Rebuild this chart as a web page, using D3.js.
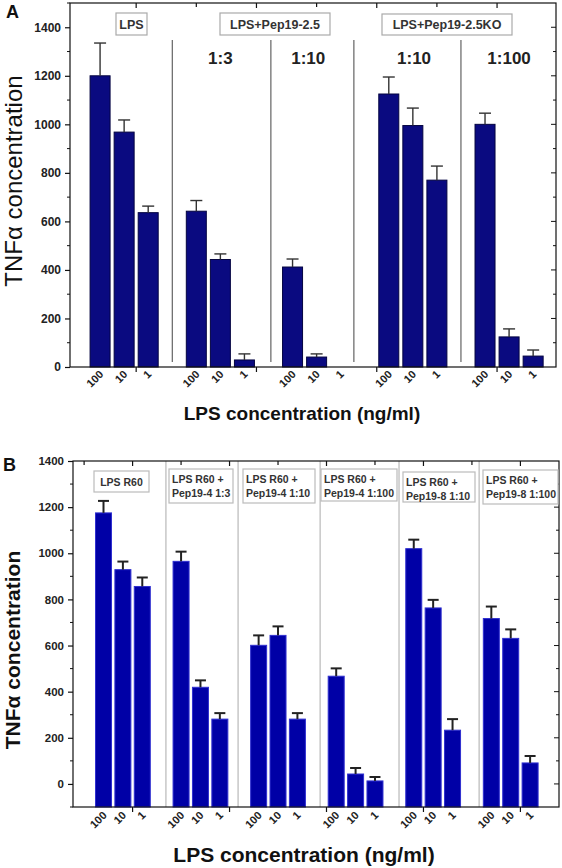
<!DOCTYPE html>
<html>
<head>
<meta charset="utf-8">
<script src="https://cdn.jsdelivr.net/npm/d3@7/dist/d3.min.js"></script>
<style>
  html, body { margin: 0; padding: 0; background: #fff; }
  svg { display: block; }
  text { font-family: "Liberation Sans", Arial, sans-serif; }
</style>
</head>
<body>
<script>
// ---------------- DATA ----------------
const doses = ["100", "10", "1"];

// Panel A
const groupsA = ["LPS", "LPS+Pep19-2.5 1:3", "LPS+Pep19-2.5 1:10", "LPS+Pep19-2.5KO 1:10", "LPS+Pep19-2.5KO 1:100"];
const boxLabelsA = ["LPS", "LPS+Pep19-2.5", "LPS+Pep19-2.5KO"];
const ratioLabelsA = ["", "1:3", "1:10", "1:10", "1:100"];
const meansA = [
  [1200, 968, 636],
  [642, 443, 29],
  [412, 41, 0],
  [1125, 995, 770],
  [1000, 124, 45]
];
const errA = [
  [135, 50, 27],
  [44, 23, 25],
  [33, 13, 0],
  [70, 72, 58],
  [46, 33, 25]
];
const yTicksA = [0, 200, 400, 600, 800, 1000, 1200, 1400];

// Panel B
const groupsB = ["LPS R60", "LPS R60 + Pep19-4 1:3", "LPS R60 + Pep19-4 1:10", "LPS R60 + Pep19-4 1:100", "LPS R60 + Pep19-8 1:10", "LPS R60 + Pep19-8 1:100"];
const boxLabelsB = [
  ["LPS R60"],
  ["LPS R60 +", "Pep19-4 1:3"],
  ["LPS R60 +", "Pep19-4 1:10"],
  ["LPS R60 +", "Pep19-4 1:100"],
  ["LPS R60 +", "Pep19-8 1:10"],
  ["LPS R60 +", "Pep19-8 1:100"]
];
const meansB = [
  [1175, 929, 856],
  [965, 419, 281],
  [601, 644, 281],
  [467, 43, 13],
  [1020, 763, 233],
  [717, 631, 91]
];
const errB = [
  [52, 35, 39],
  [42, 30, 26],
  [43, 39, 26],
  [34, 26, 17],
  [39, 35, 48],
  [52, 39, 30]
];
const yTicksB = [0, 200, 400, 600, 800, 1000, 1200, 1400];

const yTitle = "TNFα concentration";
const xTitle = "LPS concentration (ng/ml)";

// ---------------- DRAW ----------------
const W = 562, H = 868;
const svg = d3.select("body").append("svg").attr("width", W).attr("height", H);
svg.append("rect").attr("width", W).attr("height", H).attr("fill", "#fff");

function flatten(means, errs) {
  const out = [];
  means.forEach((g, gi) => g.forEach((v, i) => out.push({ g: gi, i, slot: gi * 4 + i, v, e: errs[gi][i], dose: doses[i] })));
  return out;
}

function drawPanel(cfg) {
  const g = svg.append("g");
  const x = d3.scaleLinear().domain(cfg.xDomain).range([cfg.left, cfg.right]);
  const y = d3.scaleLinear().domain(cfg.yDomain).range([cfg.bottom, cfg.top]);
  const data = flatten(cfg.means, cfg.errs);

  // separators
  g.selectAll("line.sep").data(cfg.seps).enter().append("line")
    .attr("x1", d => x(d)).attr("x2", d => x(d))
    .attr("y1", cfg.sepTop).attr("y2", cfg.sepBottom)
    .attr("stroke", cfg.sepColor).attr("stroke-width", 1);

  // bars
  const base = cfg.barBase;
  g.selectAll("rect.bar").data(data.filter(d => d.v > 0)).enter().append("rect")
    .attr("x", d => x(d.slot) - cfg.barW / 2)
    .attr("width", cfg.barW)
    .attr("y", d => y(d.v))
    .attr("height", d => y(base) - y(d.v))
    .attr("fill", cfg.barFill).attr("stroke", cfg.barStroke).attr("stroke-width", 1);

  // error bars (upper only)
  const eb = data.filter(d => d.e > 0);
  g.selectAll("line.err").data(eb).enter().append("line")
    .attr("x1", d => x(d.slot)).attr("x2", d => x(d.slot))
    .attr("y1", d => y(d.v)).attr("y2", d => y(d.v + d.e))
    .attr("stroke", cfg.errColor).attr("stroke-width", cfg.errW);
  g.selectAll("line.cap").data(eb).enter().append("line")
    .attr("x1", d => x(d.slot) - cfg.capW).attr("x2", d => x(d.slot) + cfg.capW)
    .attr("y1", d => y(d.v + d.e)).attr("y2", d => y(d.v + d.e))
    .attr("stroke", cfg.errColor).attr("stroke-width", cfg.errW);

  // frame
  g.append("rect").attr("x", cfg.left).attr("y", cfg.top)
    .attr("width", cfg.right - cfg.left).attr("height", cfg.bottom - cfg.top)
    .attr("fill", "none").attr("stroke", "#111").attr("stroke-width", 1.2);

  // left axis
  const yAx = g.append("g").attr("transform", `translate(${cfg.left},0)`)
    .call(d3.axisLeft(y).tickValues(cfg.yTicks).tickSize(5).tickPadding(4).tickFormat(d3.format("d")));
  yAx.select(".domain").remove();
  yAx.selectAll("line").attr("stroke", "#111").attr("stroke-width", 1.2);
  yAx.selectAll("text").attr("font-size", cfg.yTickFont).attr("font-weight", "bold").attr("fill", "#222");

  const minor = d3.range(cfg.yDomain[0], cfg.yDomain[1] + 1, 100).filter(v => v % 200 !== 0);
  g.selectAll("line.ymin").data(minor).enter().append("line")
    .attr("x1", cfg.left - 3).attr("x2", cfg.left)
    .attr("y1", d => y(d)).attr("y2", d => y(d)).attr("stroke", "#111");
  // right axis inward ticks
  const all100 = d3.range(cfg.yDomain[0] + 100, cfg.yDomain[1], 100);
  g.selectAll("line.yr").data(all100).enter().append("line")
    .attr("x1", cfg.right - (d => 4)).attr("x1", d => cfg.right - (d % 200 === 0 ? 5 : 3)).attr("x2", cfg.right)
    .attr("y1", d => y(d)).attr("y2", d => y(d)).attr("stroke", "#111");

  // top ticks inward
  g.selectAll("line.xt").data(cfg.topTicks).enter().append("line")
    .attr("x1", d => x(d)).attr("x2", d => x(d))
    .attr("y1", cfg.top).attr("y2", (d, i) => cfg.top + (cfg.majorX.includes(d) ? 5 : 4))
    .attr("stroke", "#111").attr("stroke-width", 1.2);
  // bottom ticks outward
  g.selectAll("line.xb").data(cfg.majorX).enter().append("line")
    .attr("x1", d => x(d)).attr("x2", d => x(d))
    .attr("y1", cfg.bottom).attr("y2", cfg.bottom + 5)
    .attr("stroke", "#111").attr("stroke-width", 1.2);

  // x tick labels (rotated)
  g.selectAll("text.xl").data(data).enter().append("text")
    .attr("transform", d => `translate(${x(d.slot) + 4},${cfg.bottom + cfg.xlOff}) rotate(-45)`)
    .attr("text-anchor", "end")
    .attr("font-size", cfg.xTickFont).attr("font-weight", "bold").attr("fill", "#222")
    .text(d => d.dose);

  // titles
  g.append("text")
    .attr("transform", `translate(${cfg.yTitleX},${cfg.yTitleY}) rotate(-90)`)
    .attr("text-anchor", "middle")
    .attr("font-size", cfg.yTitleFont).attr("font-weight", cfg.yTitleWeight).attr("fill", "#111")
    .text(yTitle);
  g.append("text").attr("x", cfg.xTitleX).attr("y", cfg.xTitleY)
    .attr("text-anchor", "middle")
    .attr("font-size", cfg.xTitleFont).attr("font-weight", "bold").attr("fill", "#111")
    .text(xTitle);
  g.append("text").attr("x", cfg.panelX).attr("y", cfg.panelY)
    .attr("font-size", 18).attr("font-weight", "bold").attr("fill", "#111")
    .text(cfg.panel);

  return { g, x, y };
}

// ---- Panel A ----
const A = drawPanel({
  panel: "A", panelX: 6, panelY: 18,
  left: 70, right: 556, top: 3, bottom: 367,
  xDomain: [-1.25, 18.95], yDomain: [0, 1500],
  means: meansA, errs: errA, yTicks: yTicksA, barBase: 0,
  barW: 20, barFill: "#0a0a80", barStroke: "#040440",
  errColor: "#333", errW: 1.4, capW: 6,
  seps: [3, 7.1, 10.55, 15], sepTop: 40, sepBottom: 362, sepColor: "#444",
  topTicks: [1.5, 4, 6.5, 9, 11.5, 14, 16.5], majorX: [1.5, 6.5, 11.5, 16.5],
  xlOff: 8, xTickFont: 11, yTickFont: 12,
  yTitleX: 22, yTitleY: 181, yTitleFont: 24, yTitleWeight: "normal",
  xTitleX: 302, xTitleY: 420, xTitleFont: 19
});

// boxes A
const boxesA = [[116, 13, 31, 22], [220, 13, 110, 22], [382, 14, 130, 21]];
boxesA.forEach((b, i) => {
  A.g.append("rect").attr("x", b[0]).attr("y", b[1]).attr("width", b[2]).attr("height", b[3])
    .attr("fill", "#fff").attr("stroke", "#aaa").attr("stroke-width", 1.2);
  A.g.append("text").attr("x", b[0] + b[2] / 2).attr("y", b[1] + b[3] / 2 + 4.5)
    .attr("text-anchor", "middle").attr("font-size", 12.5).attr("font-weight", "bold").attr("fill", "#333")
    .text(boxLabelsA[i]);
});
const ratioSlots = [null, 5, 8.65, 13.05, 17];
ratioLabelsA.forEach((t, i) => {
  if (!t) return;
  A.g.append("text").attr("x", A.x(ratioSlots[i])).attr("y", 64)
    .attr("text-anchor", "middle").attr("font-size", 17).attr("font-weight", "bold").attr("fill", "#222")
    .text(t);
});

// ---- Panel B ----
const B = drawPanel({
  panel: "B", panelX: 3, panelY: 471,
  left: 73, right: 559, top: 461, bottom: 807,
  xDomain: [-1.573, 23.49], yDomain: [-100, 1400],
  means: meansB, errs: errB, yTicks: yTicksB, barBase: -100,
  barW: 16, barFill: "#0000a6", barStroke: "#3030d0",
  errColor: "#222", errW: 2, capW: 5.5,
  seps: [3.22, 6.94, 11.17, 15.24, 19.37], sepTop: 461, sepBottom: 807, sepColor: "#aaa",
  topTicks: [-1, 1.5, 4, 6.5, 9, 11.5, 14, 16.5, 19, 21.5], majorX: [1.5, 6.5, 11.5, 16.5, 21.5],
  xlOff: 9, xTickFont: 11, yTickFont: 11.5,
  yTitleX: 20, yTitleY: 650, yTitleFont: 21, yTitleWeight: "bold",
  xTitleX: 304, xTitleY: 862, xTitleFont: 21
});

const boxesB = [[94, 471, 55, 21], [169, 469, 64, 34], [243, 469, 72, 34], [321, 469, 76, 32], [403, 472, 72, 30], [483, 470, 75, 34]];
boxesB.forEach((b, i) => {
  B.g.append("rect").attr("x", b[0]).attr("y", b[1]).attr("width", b[2]).attr("height", b[3])
    .attr("fill", "#fff").attr("stroke", "#bbb").attr("stroke-width", 1.2);
  const lines = boxLabelsB[i];
  if (lines.length === 1) {
    B.g.append("text").attr("x", b[0] + b[2] / 2).attr("y", b[1] + b[3] / 2 + 4)
      .attr("text-anchor", "middle").attr("font-size", 10.5).attr("font-weight", "bold").attr("fill", "#333")
      .text(lines[0]);
  } else {
    lines.forEach((t, j) => {
      B.g.append("text").attr("x", b[0] + 3).attr("y", b[1] + 14 + j * 13.5)
        .attr("font-size", 10.5).attr("font-weight", "bold").attr("fill", "#333")
        .text(t);
    });
  }
});
</script>
</body>
</html>
